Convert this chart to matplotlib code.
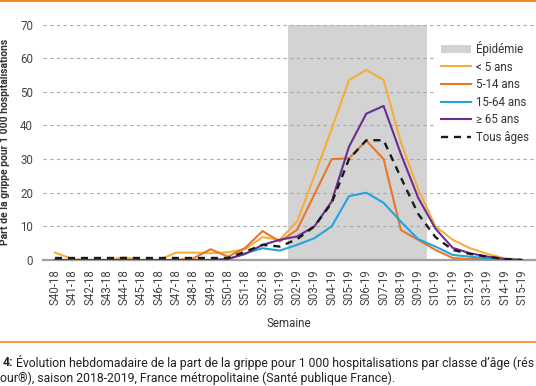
import numpy as np
import matplotlib
matplotlib.use("Agg")
import matplotlib.pyplot as plt
from matplotlib.patches import Patch
from matplotlib.lines import Line2D

plt.rcParams['font.family'] = ['Roboto', 'DejaVu Sans']

# ===========================================================================
# Data
# ===========================================================================
weeks = ["S40-18", "S41-18", "S42-18", "S43-18", "S44-18", "S45-18", "S46-18",
         "S47-18", "S48-18", "S49-18", "S50-18", "S51-18", "S52-18", "S01-19",
         "S02-19", "S03-19", "S04-19", "S05-19", "S06-19", "S07-19", "S08-19",
         "S09-19", "S10-19", "S11-19", "S12-19", "S13-19", "S14-19", "S15-19"]

lt5 = [2.2, 0.3, 0, 0, 0.8, 0, 0, 2.2, 2.2, 2.0, 2.3, 3.2, 6.8, 6.0,
       11.5, 25, 39, 53.5, 56.5, 53.5, 35, 21, 10, 6, 3.5, 1.8, 0.5, 0]
a5_14 = [0, 0, 0, 0, 0, 0, 0, 0, 0.5, 3.2, 1.0, 3.6, 8.6, 5.5,
         9, 19.5, 30, 30.2, 35.5, 30, 8.9, 6, 3, 0.6, 0.3, 0.2, 0, 0]
a15_64 = [0, 0, 0, 0, 0, 0, 0, 0, 0, 0, 0.3, 2.0, 3.5, 2.8,
          4.5, 6.5, 10, 19, 20, 17, 11.4, 6.2, 4, 1.5, 1.0, 0.5, 0.2, 0]
ge65 = [0, 0, 0, 0, 0, 0, 0, 0, 0, 0, 0.3, 1.8, 4.5, 6.0,
        7, 10, 17.4, 33.7, 43.5, 45.8, 31.5, 18.5, 9.3, 3.6, 2, 1, 0.3, 0]
tous = [0.6, 0.6, 0.6, 0.6, 0.6, 0.6, 0.6, 0.6, 0.6, 0.6, 0.6, 2.5, 4.5, 4.0,
        6.2, 10, 17, 30, 35.6, 35.6, 24.5, 13.7, 6.8, 3, 1.8, 1, 0.3, 0]

epi_start, epi_end = "S02-19", "S09-19"

# ===========================================================================
# Plot
# ===========================================================================
fig = plt.figure(figsize=(5.36, 3.86), dpi=100)
ax = fig.add_axes([0.080, 0.3264, 0.918, 0.6101])

x = np.arange(len(weeks))
i0, i1 = weeks.index(epi_start), weeks.index(epi_end)
ax.bar((i0 + i1) / 2, 70, width=i1 - i0 + 1, color="#d3d3d3", zorder=1)

ax.plot(x, lt5, color="#f6ae3a", lw=1.5, zorder=3)
ax.plot(x, a5_14, color="#e8772a", lw=1.5, zorder=3)
ax.plot(x, a15_64, color="#24a4dc", lw=1.5, zorder=3)
ax.plot(x, ge65, color="#6b2d8e", lw=1.5, zorder=3)
ax.plot(x, tous, color="#1a1a1a", lw=1.7, ls=(0, (3, 2.5)), zorder=4)

ax.set_xlim(-0.7, 27.75)
ax.set_ylim(0, 70)
ax.set_yticks(range(0, 71, 10))
ax.set_xticks(x)
ax.set_xticklabels(weeks, rotation=90)
ax.tick_params(axis="both", length=0, colors="#444444", labelsize=8.3)
ax.tick_params(axis="y", pad=7)
ax.tick_params(axis="x", pad=6.5)

ax.yaxis.grid(True, ls=(0, (3, 3)), color="#aaaaaa", lw=0.8)
for s in ["top", "right", "left"]:
    ax.spines[s].set_visible(False)
ax.spines["bottom"].set_color("#a0a0a0")
ax.spines["bottom"].set_linewidth(1.6)
ax.spines["bottom"].set_zorder(2.5)

ax.set_ylabel("Part de la grippe pour 1 000 hospitalisations", fontsize=7.5,
              fontweight="bold", color="#333333")
ax.yaxis.set_label_coords(-0.066, 0.5)
ax.set_xlabel("Semaine", fontsize=8.3, color="#333333")
ax.xaxis.set_label_coords(0.5, -0.24)

handles = [Patch(facecolor="#d3d3d3", edgecolor="none"),
           Line2D([], [], color="#f6ae3a", lw=1.5),
           Line2D([], [], color="#e8772a", lw=1.5),
           Line2D([], [], color="#24a4dc", lw=1.5),
           Line2D([], [], color="#6b2d8e", lw=1.5),
           Line2D([], [], color="#1a1a1a", lw=1.7, ls=(0, (3, 2.5)))]
labels = ["Épidémie", "< 5 ans", "5-14 ans", "15-64 ans", "≥ 65 ans", "Tous âges"]
leg = ax.legend(handles, labels, loc="upper left", bbox_to_anchor=(0.80, 0.95),
                frameon=True, facecolor="white", edgecolor="none", framealpha=1,
                fontsize=8.3, handlelength=2.6, handletextpad=0.45,
                labelspacing=0.4, borderpad=0.4, borderaxespad=0)
for t in leg.get_texts():
    t.set_color("#333333")
leg.set_zorder(5)

# decorative rules and caption
fig.add_artist(Line2D([0, 1], [0.997, 0.997], color="#f08a2a", lw=1.5))
fig.add_artist(Line2D([0, 1], [0.114, 0.114], color="#f08a2a", lw=1.2))

t1 = fig.text(3 / 536, 0.062, "4:", fontsize=8.8, fontweight="bold",
              color="#222222", va="center")
fig.canvas.draw()
bb = t1.get_window_extent()
fig.text(bb.x1 / 536 + 0.004, 0.062,
         "Évolution hebdomadaire de la part de la grippe pour 1 000 hospitalisations par classe d’âge (rés",
         fontsize=8.8, color="#222222", va="center")
fig.text(0, 0.021, "our®), saison 2018-2019, France métropolitaine (Santé publique France).",
         fontsize=8.8, color="#222222", va="center")

fig.savefig("out.png", dpi=100)
